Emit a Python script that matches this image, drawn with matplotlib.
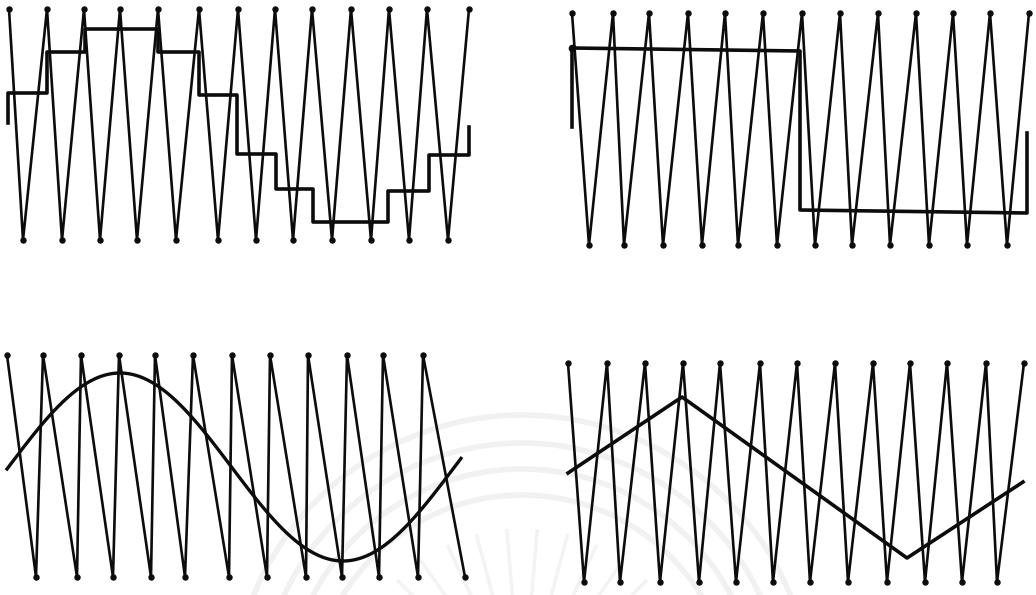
import numpy as np
import matplotlib.pyplot as plt
from matplotlib.patches import Arc

# carrier vertices (pixel positions on the page), alternating top / bottom
tl_tops = [9, 47, 84, 120, 158, 199, 238, 275, 312, 351, 389, 427, 469]
tl_bots = [23, 62, 100, 137, 176, 218, 256, 293, 332, 371, 409, 448]
tl_top_y, tl_bot_y = 9, 240

tr_tops = [572, 613, 649, 688, 725, 763, 802, 840, 878, 916, 953, 990, 1029]
tr_bots = [589, 624, 663, 702, 738, 777, 815, 852, 890, 929, 967, 1007]
tr_top_y, tr_bot_y = 13, 245

bl_tops = [7, 43, 81, 119, 155, 193, 232, 270, 308, 347, 383, 423]
bl_bots = [36, 77, 113, 151, 185, 229, 267, 306, 342, 379, 418, 465]
bl_top_y, bl_bot_y = 355, 577

br_tops = [568, 607, 645, 683, 720, 760, 797, 835, 873, 910, 947, 986, 1024]
br_bots = [584, 620, 660, 699, 736, 773, 810, 848, 887, 925, 962, 997]
br_top_y, br_bot_y = 363, 582

# sampled (staircase) reference
stair_edges = [8, 47, 85, 158, 199, 237, 276, 313, 388, 429, 469]
stair_levels = [93, 52, 29, 52, 95, 154, 189, 222, 191, 155]
stair_tails = (123, 127)

# square reference
square_x = [572, 572, 800, 800, 1027, 1027]
square_y = [127, 48, 51, 210, 213, 133]

# sine reference: start, end, peak position, half period, centre line, amplitude
sine_x0, sine_x1 = 7, 461
sine_peak_x, sine_half = 120, 223
sine_mid, sine_amp = 467, 94

# triangle reference
tri_x = [568, 682, 907, 1023]
tri_y = [473, 397, 558, 482]

INK = '#0c0c0c'


def carrier(ax, tops, bots, ty, by, end_on_top=True):
    xs, ys = [], []
    for i, t in enumerate(tops):
        xs.append(t); ys.append(ty)
        if i < len(bots):
            xs.append(bots[i]); ys.append(by)
    ax.plot(xs, ys, color=INK, lw=1.9, solid_joinstyle='round')
    ax.plot(xs, ys, 'o', color=INK, ms=3.6)


fig = plt.figure(figsize=(10.36, 5.95), dpi=100)
ax = fig.add_axes([0, 0, 1, 1])
ax.set_xlim(0, 1036)
ax.set_ylim(595, 0)
ax.axis('off')

# faint emblem in the background
for r in [290, 262, 236, 210]:
    ax.add_patch(Arc((522, 705), 2 * r, 2 * r, theta1=185, theta2=355,
                     color='#f1f1f1', lw=4, zorder=0))
for ang in np.linspace(215, 325, 12):
    a = np.radians(ang)
    ax.plot([522 + 80 * np.cos(a), 522 + 175 * np.cos(a)],
            [705 + 80 * np.sin(a), 705 + 175 * np.sin(a)],
            color='#f3f3f3', lw=2.5, zorder=0)

carrier(ax, tl_tops, tl_bots, tl_top_y, tl_bot_y)
carrier(ax, tr_tops, tr_bots, tr_top_y, tr_bot_y)
carrier(ax, bl_tops, bl_bots, bl_top_y, bl_bot_y)
carrier(ax, br_tops, br_bots, br_top_y, br_bot_y)

# staircase
sx = [stair_edges[0]]
sy = [stair_tails[0]]
for i, lv in enumerate(stair_levels):
    sx += [stair_edges[i], stair_edges[i + 1]]
    sy += [lv, lv]
sx.append(stair_edges[-1]); sy.append(stair_tails[1])
ax.plot(sx, sy, color=INK, lw=2.6, solid_joinstyle='round')

# square
ax.plot(square_x, square_y, color=INK, lw=2.6, solid_joinstyle='round')
ax.plot(square_x[1], square_y[1], 'o', color=INK, ms=4.5)

# sine
xx = np.linspace(sine_x0, sine_x1, 300)
yy = sine_mid - sine_amp * np.cos(np.pi * (xx - sine_peak_x) / sine_half)
ax.plot(xx, yy, color=INK, lw=2.4)

# triangle
ax.plot(tri_x, tri_y, color=INK, lw=2.6, solid_joinstyle='round')

fig.savefig('out.png', dpi=100, facecolor='white')
